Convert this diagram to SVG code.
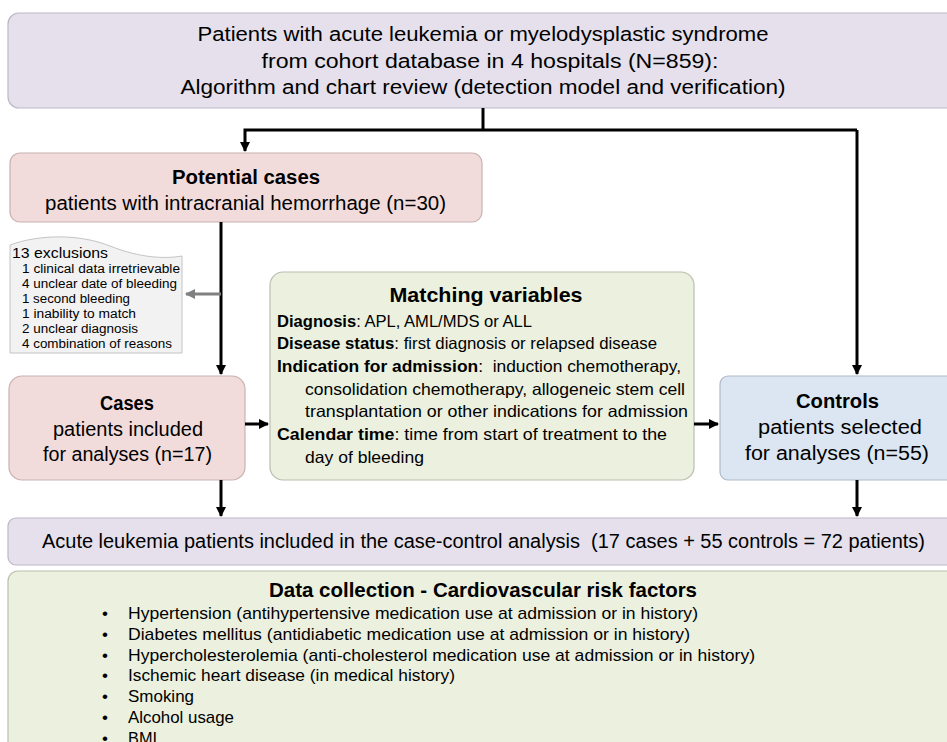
<svg xmlns="http://www.w3.org/2000/svg" width="947" height="742" viewBox="0 0 947 742">
<defs>
<marker id="ah" viewBox="0 0 10 10" refX="9" refY="5" markerWidth="3.4" markerHeight="3.4" orient="auto" markerUnits="strokeWidth"><path d="M0,0 L10,5 L0,10 Z" fill="#000"/></marker>
<marker id="ahg" viewBox="0 0 10 10" refX="9" refY="5" markerWidth="3.4" markerHeight="3.4" orient="auto" markerUnits="strokeWidth"><path d="M0,0 L10,5 L0,10 Z" fill="#808080"/></marker>
<style>
text{font-family:"Liberation Sans","Noto Sans",Arial,sans-serif;fill:#000}
.c{text-anchor:middle}
.b{font-weight:bold}
.lav{fill:#e5e0ec;stroke:#bdb7c6;stroke-width:1.2}
.pink{fill:#f2dcdb;stroke:#c8b2b1;stroke-width:1.2}
.grn{fill:#ebf0df;stroke:#b9bfae;stroke-width:1.2}
.blu{fill:#dce6f2;stroke:#aeb9c7;stroke-width:1.2}
.conn{fill:none;stroke:#000;stroke-width:3}
.f20{font-size:20px}
.f17{font-size:16.5px}
.f13{font-size:12.5px}
</style>
</defs>

<g id="top">
<rect class="lav" x="8" y="13" width="950" height="95" rx="11"/>
<text class="c f20" x="483" y="41" textLength="571" lengthAdjust="spacingAndGlyphs">Patients with acute leukemia or myelodysplastic syndrome</text>
<text class="c f20" x="490" y="68" textLength="457" lengthAdjust="spacingAndGlyphs">from cohort database in 4 hospitals (N=859):</text>
<text class="c f20" x="483" y="94" textLength="605" lengthAdjust="spacingAndGlyphs">Algorithm and chart review (detection model and verification)</text>
</g>

<g id="potential">
<rect class="pink" x="10" y="153" width="472" height="69" rx="10"/>
<text class="c b" x="246" y="184" font-size="20" textLength="148" lengthAdjust="spacingAndGlyphs">Potential cases</text>
<text class="c f20" x="245.5" y="210" textLength="401" lengthAdjust="spacingAndGlyphs">patients with intracranial hemorrhage (n=30)</text>
</g>

<g id="exclusions">
<path d="M10,245 C40,234 80,234 110,246 C140,258 165,259 182,256 L182,353 L10,353 Z" fill="#f2f2f2" stroke="#c4c4c4" stroke-width="1"/>
<text x="12" y="258" font-size="15" textLength="96" lengthAdjust="spacingAndGlyphs">13 exclusions</text>
<text class="f13" x="22" y="273" textLength="158" lengthAdjust="spacingAndGlyphs">1 clinical data irretrievable</text>
<text class="f13" x="22" y="288" textLength="155" lengthAdjust="spacingAndGlyphs">4 unclear date of bleeding</text>
<text class="f13" x="22" y="303" textLength="108" lengthAdjust="spacingAndGlyphs">1 second bleeding</text>
<text class="f13" x="22" y="318" textLength="114" lengthAdjust="spacingAndGlyphs">1 inability to match</text>
<text class="f13" x="22" y="333" textLength="116" lengthAdjust="spacingAndGlyphs">2 unclear diagnosis</text>
<text class="f13" x="22" y="348" textLength="150" lengthAdjust="spacingAndGlyphs">4 combination of reasons</text>
</g>

<g id="cases">
<rect class="pink" x="9" y="376" width="236" height="104" rx="13"/>
<text class="c b" x="127" y="410" font-size="20" textLength="54" lengthAdjust="spacingAndGlyphs">Cases</text>
<text class="c f20" x="128" y="436" textLength="150" lengthAdjust="spacingAndGlyphs">patients included</text>
<text class="c f20" x="127.5" y="461" textLength="169" lengthAdjust="spacingAndGlyphs">for analyses (n=17)</text>
</g>

<g id="matching">
<rect class="grn" x="270" y="272" width="424" height="208" rx="13"/>
<text class="c b" x="486" y="302" font-size="21" textLength="193" lengthAdjust="spacingAndGlyphs">Matching variables</text>
<text class="f17" x="277" y="327" textLength="255" lengthAdjust="spacingAndGlyphs"><tspan class="b">Diagnosis</tspan>: APL, AML/MDS or ALL</text>
<text class="f17" x="277" y="349" textLength="380" lengthAdjust="spacingAndGlyphs"><tspan class="b">Disease status</tspan>: first diagnosis or relapsed disease</text>
<text class="f17" x="277" y="372" textLength="404" lengthAdjust="spacingAndGlyphs"><tspan class="b">Indication for admission</tspan>:&#160; induction chemotherapy,</text>
<text class="f17" x="305" y="395" textLength="380" lengthAdjust="spacingAndGlyphs">consolidation chemotherapy, allogeneic stem cell</text>
<text class="f17" x="305" y="417" textLength="383" lengthAdjust="spacingAndGlyphs">transplantation or other indications for admission</text>
<text class="f17" x="277" y="440" textLength="390" lengthAdjust="spacingAndGlyphs"><tspan class="b">Calendar time</tspan>: time from start of treatment to the</text>
<text class="f17" x="305" y="463" textLength="119" lengthAdjust="spacingAndGlyphs">day of bleeding</text>
</g>

<g id="controls">
<rect class="blu" x="720" y="376" width="240" height="104" rx="8"/>
<text class="c b" x="837.5" y="408" font-size="20" textLength="83" lengthAdjust="spacingAndGlyphs">Controls</text>
<text class="c f20" x="840" y="434" textLength="164" lengthAdjust="spacingAndGlyphs">patients selected</text>
<text class="c f20" x="837" y="460" textLength="184" lengthAdjust="spacingAndGlyphs">for analyses (n=55)</text>
</g>

<g id="included">
<rect class="lav" x="8" y="518" width="950" height="47" rx="8"/>
<text x="42" y="548" font-size="20" textLength="883" lengthAdjust="spacingAndGlyphs">Acute leukemia patients included in the case-control analysis&#160; (17 cases + 55 controls = 72 patients)</text>
</g>

<g id="datacollection">
<rect class="grn" x="8" y="571" width="950" height="190" rx="10"/>
<text x="269" y="597" class="b" font-size="21" textLength="428" lengthAdjust="spacingAndGlyphs">Data collection - Cardiovascular risk factors</text>
<g font-size="17">
<text x="102" y="619">•</text><text x="128" y="619" font-size="17" textLength="570" lengthAdjust="spacingAndGlyphs">Hypertension (antihypertensive medication use at admission or in history)</text>
<text x="102" y="640">•</text><text x="128" y="640" font-size="17" textLength="562" lengthAdjust="spacingAndGlyphs">Diabetes mellitus (antidiabetic medication use at admission or in history)</text>
<text x="102" y="661">•</text><text x="128" y="661" font-size="17" textLength="627" lengthAdjust="spacingAndGlyphs">Hypercholesterolemia (anti-cholesterol medication use at admission or in history)</text>
<text x="102" y="681">•</text><text x="128" y="681" font-size="17" textLength="327" lengthAdjust="spacingAndGlyphs">Ischemic heart disease (in medical history)</text>
<text x="102" y="702">•</text><text x="128" y="702" font-size="17" textLength="66" lengthAdjust="spacingAndGlyphs">Smoking</text>
<text x="102" y="723">•</text><text x="128" y="723" font-size="17" textLength="106" lengthAdjust="spacingAndGlyphs">Alcohol usage</text>
<text x="102" y="744">•</text><text x="128" y="744" font-size="17" textLength="29" lengthAdjust="spacingAndGlyphs">BMI</text>
</g>
</g>

<g id="connectors">
<path class="conn" d="M483,108 V130"/>
<path class="conn" d="M857,130 H245 V151" marker-end="url(#ah)"/>
<path class="conn" d="M857,130 V374" marker-end="url(#ah)"/>
<path class="conn" d="M221,222 V374" marker-end="url(#ah)"/>
<path d="M221,294 H186" fill="none" stroke="#808080" stroke-width="3" marker-end="url(#ahg)"/>
<path class="conn" d="M245,424 H268" marker-end="url(#ah)"/>
<path class="conn" d="M694,424 H718" marker-end="url(#ah)"/>
<path class="conn" d="M221,480 V516" marker-end="url(#ah)"/>
<path class="conn" d="M857,480 V516" marker-end="url(#ah)"/>
</g>
</svg>
